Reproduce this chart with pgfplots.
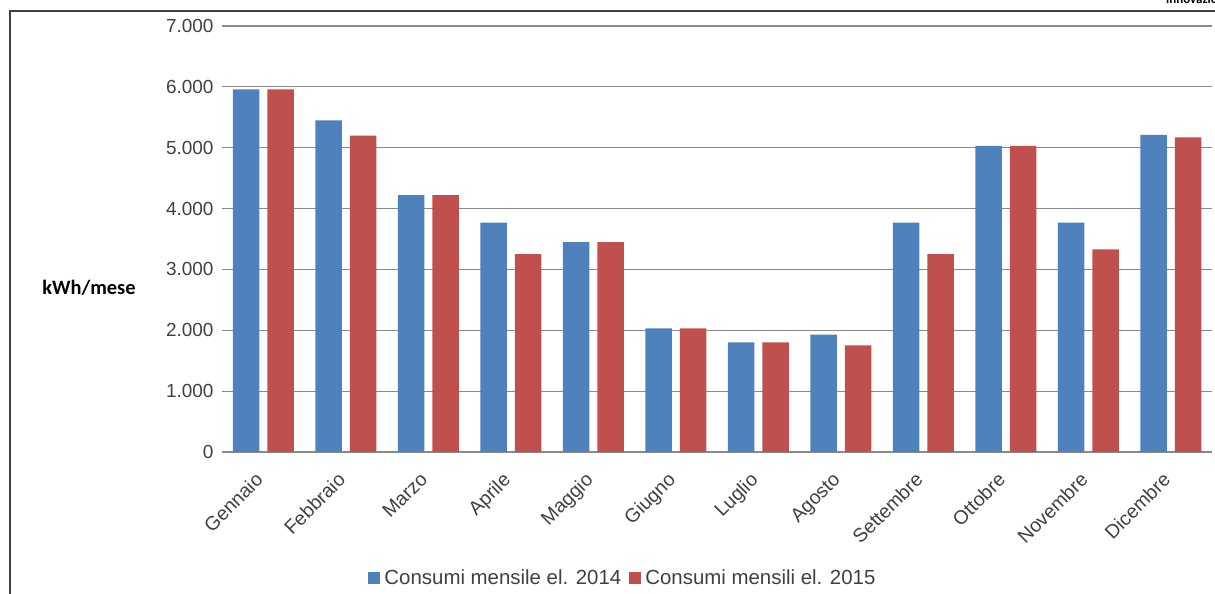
\documentclass[border=0pt]{standalone}
\usepackage{fontspec}
\setmainfont{Liberation Sans}
\newfontfamily\carlito{Carlito}
\usepackage{pgfplots}
\pgfplotsset{compat=1.18}
\definecolor{cA}{HTML}{4F81BD}
\definecolor{cB}{HTML}{C0504D}
\definecolor{gridc}{HTML}{8A8A8A}
\definecolor{txt}{HTML}{404040}
\begin{document}
\begin{tikzpicture}[x=1bp,y=1bp]
\useasboundingbox (0,0) rectangle (1215,594);
\draw[txt, line width=1.2bp] (10,0) -- (10,583) -- (1215,583);
\node[anchor=base west, font=\carlito\bfseries\fontsize{13}{15}\selectfont, inner sep=0] at (1166,590) {innovazione};
\node[font=\carlito\bfseries\fontsize{20.5}{24}\selectfont, text=black] at (89,306) {kWh/mese};
\begin{axis}[
  at={(222bp,142bp)}, anchor=south west,
  scale only axis, width=990bp, height=426bp,
  xmin=-0.5, xmax=11.5, ymin=0, ymax=7000,
  ybar=8bp, bar width=26.5bp,
  axis line style={draw=none},
  tick style={draw=none},
  ytick={0,1000,...,7000},
  ymajorgrids, grid style={gridc, line width=1.2bp},
  /pgf/number format/.cd, 1000 sep={.}, assume math mode=true, /pgfplots/.cd,
  scaled y ticks=false,
  yticklabel style={font=\fontsize{19}{22}\selectfont, text=txt, xshift=-5bp},
  xtick={0,...,11},
  xticklabels={Gennaio,Febbraio,Marzo,Aprile,Maggio,Giugno,Luglio,Agosto,Settembre,Ottobre,Novembre,Dicembre},
  xticklabel style={font=\fontsize{19.5}{22}\selectfont, text=txt, rotate=45, anchor=north east, inner sep=2bp, xshift=-15bp, yshift=-2bp},
  legend columns=2,
  legend style={draw=none, fill=none, at={(0.406,-0.296)}, anchor=center, font=\fontsize{20.5}{24}\selectfont, text=txt,
    /tikz/every even column/.append style={column sep=4bp},
    /tikz/every odd column/.append style={column sep=0bp},
    nodes={inner xsep=4bp}},
  legend image code/.code={\fill[#1] (0bp,-6bp) rectangle (12bp,6bp);},
]
\addplot[fill=cA, draw=none] coordinates {(0,5960) (1,5450) (2,4220) (3,3770) (4,3450) (5,2030) (6,1800) (7,1930) (8,3770) (9,5030) (10,3770) (11,5210)};
\addplot[fill=cB, draw=none] coordinates {(0,5960) (1,5200) (2,4220) (3,3250) (4,3450) (5,2030) (6,1800) (7,1750) (8,3250) (9,5030) (10,3330) (11,5170)};
\legend{Consumi mensile el. 2014, Consumi mensili el. 2015}
\end{axis}
\end{tikzpicture}
\end{document}
